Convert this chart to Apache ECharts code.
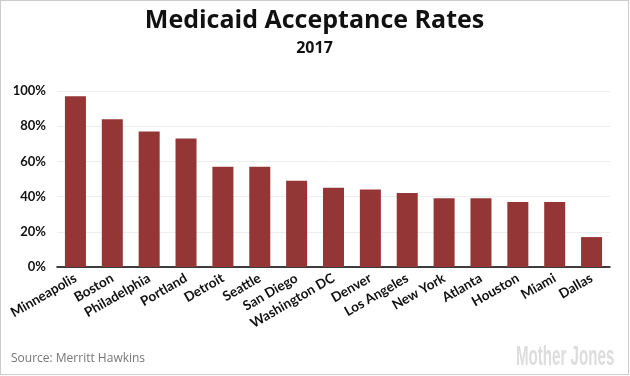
<!DOCTYPE html>
<html><head><meta charset="utf-8">
<script src="https://cdn.jsdelivr.net/npm/echarts@6/dist/echarts.min.js"></script>
<style>html,body{margin:0;padding:0;background:#fff}#c{width:629px;height:375px;box-sizing:border-box;border:1px solid #ccc}</style>
</head><body><div id="c"></div>
<script>
const categories = ['Minneapolis','Boston','Philadelphia','Portland','Detroit','Seattle','San Diego','Washington DC','Denver','Los Angeles','New York','Atlanta','Houston','Miami','Dallas'];
const rates = [97,84,77,73,57,57,49,45,44,42,39,39,37,37,17];
const yTicks = [0,20,40,60,80,100];

const chart = echarts.init(document.getElementById('c'), null, {renderer:'canvas'});
chart.setOption({
  animation:false,
  title:[
    {text:'Medicaid Acceptance Rates', left:'center', top:2, textStyle:{fontFamily:'Open Sans', fontWeight:'bold', fontSize:25, color:'#111'}},
    {text:'2017', left:'center', top:34, textStyle:{fontFamily:'Open Sans', fontWeight:'bold', fontSize:16, color:'#111'}}
  ],
  graphic:[
    {type:'text', left:10, top:352, style:{text:'Source: Merritt Hawkins', font:'12px "Open Sans"', fill:'#777'}},
    {type:'text', x:515, y:343, scaleX:0.56, style:{text:'Mother Jones', font:'bold 27px "Liberation Sans"', fill:'#ddd', textVerticalAlign:'top'}}
  ],
  grid:{left:56, right:18, top:90, bottom:107, containLabel:false},
  xAxis:{type:'category', data:categories,
    axisLine:{lineStyle:{color:'#000', width:1.5}}, axisTick:{show:false},
    axisLabel:{rotate:30, interval:0, fontFamily:'Lato', fontWeight:'bold', fontSize:13.5, color:'#111', margin:10}},
  yAxis:{type:'value', min:yTicks[0], max:yTicks[yTicks.length-1], interval:20,
    axisLine:{show:false}, axisTick:{show:false},
    splitLine:{lineStyle:{color:'#eee', width:1}},
    axisLabel:{formatter:v=>v+'%', fontFamily:'Lato', fontWeight:'bold', fontSize:13, color:'#111', margin:11}},
  series:[{type:'bar', data:rates, barCategoryGap:'43%', itemStyle:{color:'#943635'}}]
});
</script></body></html>
